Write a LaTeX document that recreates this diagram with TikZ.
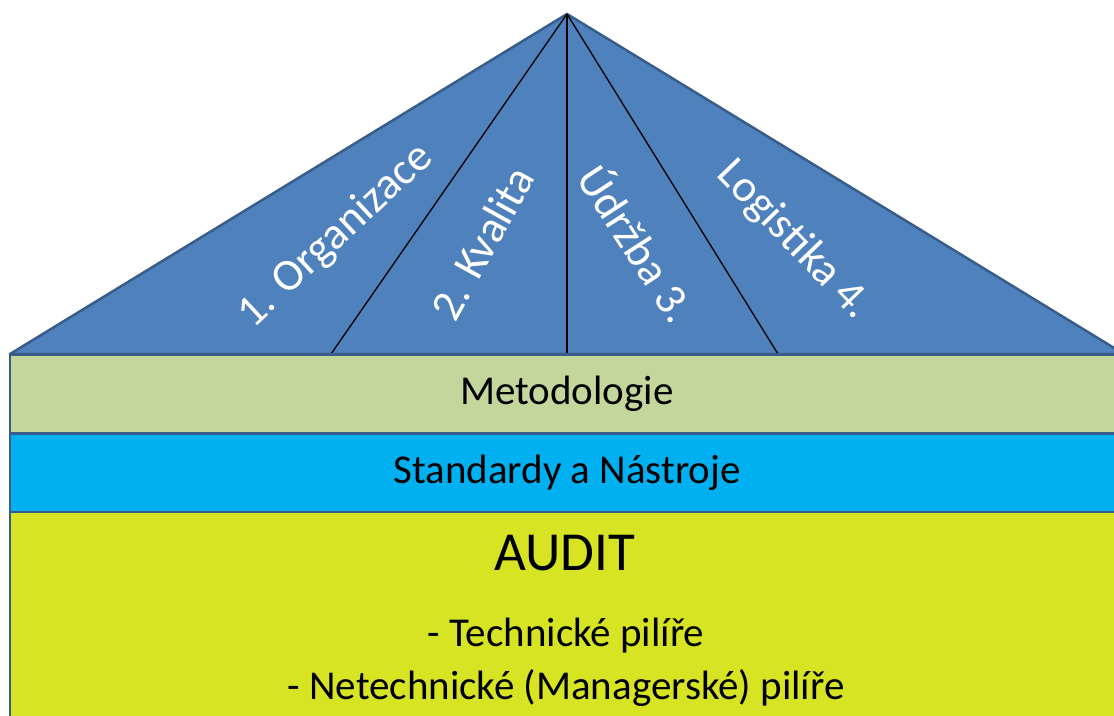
\documentclass[tikz,border=0pt]{standalone}
\usepackage{fontspec}
\setmainfont{Carlito}
\definecolor{roofblue}{HTML}{4F81BD}
\definecolor{edgeblue}{HTML}{385D8A}
\definecolor{metodgreen}{HTML}{C3D69B}
\definecolor{standblue}{HTML}{00B0F0}
\definecolor{audityellow}{HTML}{D6E424}
\begin{document}
\begin{tikzpicture}[x=1pt,y=-1pt,
  band/.style={draw=edgeblue, line width=2.5pt, minimum width=1114pt, inner sep=0pt, font=\fontsize{41}{48}\selectfont},
  pillar/.style={text=white, inner sep=0pt, font=\fontsize{45}{52}\selectfont},
  auditline/.style={inner sep=0pt, font=\fontsize{41}{48}\selectfont}]
\useasboundingbox (0,0) rectangle (1114,715);
\coordinate (top) at (567,14);
\coordinate (left) at (10,354);
\coordinate (right) at (1124,354);
\coordinate (b1) at (331,354);
\coordinate (b2) at (567,354);
\coordinate (b3) at (778,354);

% roof
\path[draw=edgeblue, fill=roofblue, line width=2.5pt, line join=round] (left) -- (top) -- (right) -- cycle;
\path[draw, line width=1.3pt] (top) -- (b1);
\path[draw, line width=1.3pt] (top) -- (b2);
\path[draw, line width=1.3pt] (top) -- (b3);

\node[pillar, rotate=43] (organizace) at (336,236) {1. Organizace};
\node[pillar, rotate=61] (kvalita) at (482,243) {2. Kvalita};
\node[pillar, rotate=-57] (udrzba) at (639,242) {Údržba 3.};
\node[pillar, rotate=-46] (logistika) at (794,240) {Logistika 4.};

% bands
\node[band, fill=metodgreen, minimum height=79pt] (metodologie) at (567,394) {Metodologie};
\node[band, fill=standblue, minimum height=79pt] (standardy) at (567,473) {Standardy a Nástroje};
\node[band, fill=audityellow, minimum height=240pt] (audit) at (567,632) {};

\node[auditline, font=\fontsize{55}{60}\selectfont] (audittitle) at (565,553) {AUDIT};
\node[auditline] (technicke) at (566,636) {- Technické pilíře};
\node[auditline] (netechnicke) at (566,688) {- Netechnické (Managerské) pilíře};
\end{tikzpicture}
\end{document}
